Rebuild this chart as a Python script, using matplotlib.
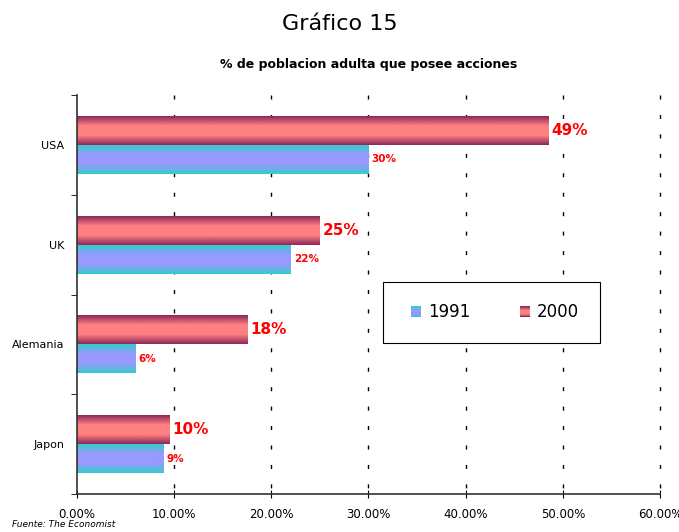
import matplotlib.pyplot as plt
import numpy as np
from matplotlib.colors import LinearSegmentedColormap
from matplotlib.legend_handler import HandlerBase
from matplotlib.patches import Rectangle

# data
paises = ['USA', 'UK', 'Alemania', 'Japon']
v1991 = [30.0, 22.0, 6.0, 8.9]
v2000 = [48.5, 25.0, 17.5, 9.5]
lab1991 = ['30%', '22%', '6%', '9%']
lab2000 = ['49%', '25%', '18%', '10%']
xticks = [0, 10, 20, 30, 40, 50, 60]

plt.rcParams['lines.scale_dashes'] = False

# gradient colours (edge -> centre -> edge)
cm_2000 = LinearSegmentedColormap.from_list('c2000', ['#8c2a5c', '#ff8080', '#ff8080', '#8c2a5c'])
cm_1991 = LinearSegmentedColormap.from_list('c1991', ['#33cccc', '#9999ff', '#9999ff', '#33cccc'])
grad = np.linspace(0, 1, 64).reshape(-1, 1)


def gradient_bar(ax, x, y0, h, cmap):
    ax.imshow(grad, cmap=cmap, aspect='auto', extent=(0, x, y0, y0 + h),
              interpolation='bilinear', zorder=2)


class GradHandler(HandlerBase):
    def __init__(self, cmap):
        super().__init__()
        self.cmap = cmap

    def create_artists(self, legend, orig_handle, xdescent, ydescent, width, height, fontsize, trans):
        n = 12
        w = height * 0.85
        x0 = width - w
        arts = []
        for i in range(n):
            c = self.cmap(i / (n - 1))
            arts.append(Rectangle((x0 - xdescent, -ydescent + height * i / n), w, height / n * 1.1,
                                  facecolor=c, edgecolor='none', transform=trans))
        return arts


fig = plt.figure(figsize=(6.79, 5.32), dpi=100)
ax = fig.add_axes([0.1134, 0.0714, 0.8586, 0.75])

h = 0.29
n = len(paises)
for i in range(n):
    yc = n - 1 - i
    gradient_bar(ax, v2000[i], yc, h, cm_2000)
    gradient_bar(ax, v1991[i], yc - h, h, cm_1991)
    ax.text(v2000[i] + 0.3, yc + h / 2, lab2000[i], color='#ff0000', fontsize=11,
            fontweight='bold', va='center', ha='left', zorder=4,
            bbox=dict(facecolor='white', edgecolor='none', pad=0.5))
    ax.text(v1991[i] + 0.3, yc - h / 2, lab1991[i], color='#ff0000', fontsize=7.5,
            fontweight='bold', va='center', ha='left', zorder=4,
            bbox=dict(facecolor='white', edgecolor='none', pad=0.5))

ax.set_xlim(0, 60)
ax.set_ylim(-0.5, n - 0.5)
ax.set_xticks(xticks)
ax.set_xticklabels([f'{t:.2f}%' for t in xticks], fontsize=8.5)
ax.set_yticks([n - 1 - i for i in range(n)])
ax.set_yticklabels(paises, fontsize=8)
ax.set_yticks(np.arange(-0.5, n, 1), minor=True)
ax.tick_params(axis='y', which='major', length=0, pad=9)
ax.tick_params(axis='y', which='minor', length=4, direction='out')
ax.tick_params(axis='x', length=6, direction='inout', pad=7)

for t in xticks[1:]:
    ax.plot([t, t], [n - 0.5, -0.5], color='black', linestyle=(0, (2.9, 11.1)),
            linewidth=1, zorder=1, clip_on=False)

for s in ['top', 'right']:
    ax.spines[s].set_visible(False)
ax.spines['left'].set_linewidth(1.2)
ax.spines['bottom'].set_linewidth(1.2)
ax.spines['left'].set_color('#333333')
ax.spines['bottom'].set_color('#333333')

h91 = Rectangle((0, 0), 1, 1)
h00 = Rectangle((0, 0), 1, 1)
leg = ax.legend([h91, h00], ['1991', '2000'], ncol=2, fontsize=12,
                handler_map={h91: GradHandler(cm_1991), h00: GradHandler(cm_2000)},
                loc='center', bbox_to_anchor=(0.711, 0.455),
                fancybox=False, framealpha=1, edgecolor='black',
                borderpad=1.3, handlelength=1.0, handletextpad=0.4, columnspacing=2.6)
leg.get_frame().set_linewidth(0.8)

fig.text(0.5, 0.955, 'Gráfico 15', ha='center', va='center', fontsize=16)
fig.text(0.543, 0.878, '% de poblacion adulta que posee acciones', ha='center', va='center',
         fontsize=9, fontweight='bold')
fig.text(0.017, 0.015, 'Fuente: The Economist', ha='left', va='center', fontsize=6.5, style='italic')

fig.savefig('out.png', dpi=100)
